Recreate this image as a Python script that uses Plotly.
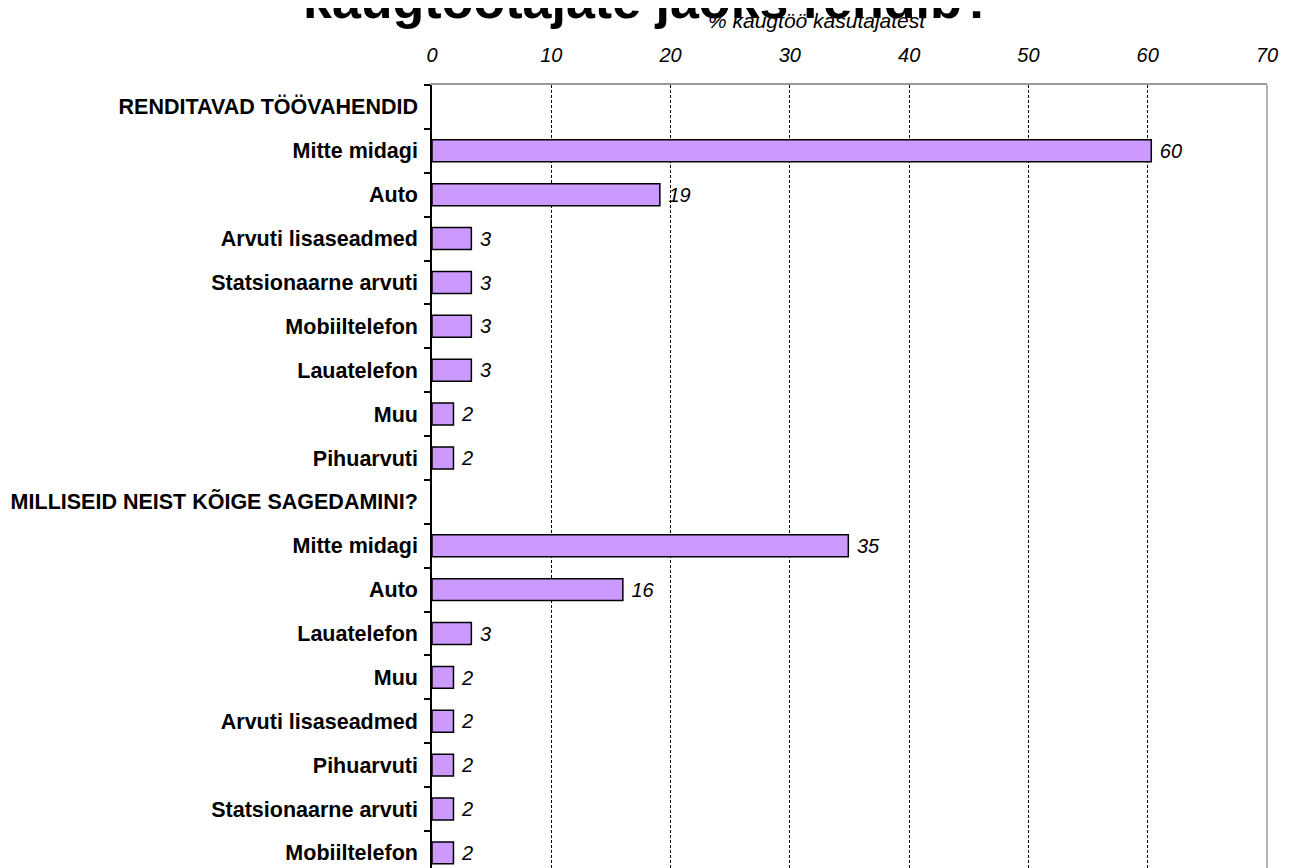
import plotly.graph_objects as go

# Andmed
kategooriad = [
    "RENDITAVAD TÖÖVAHENDID",
    "Mitte midagi", "Auto", "Arvuti lisaseadmed", "Statsionaarne arvuti",
    "Mobiiltelefon", "Lauatelefon", "Muu", "Pihuarvuti",
    "MILLISEID NEIST KÕIGE SAGEDAMINI?",
    "Mitte midagi", "Auto", "Lauatelefon", "Muu", "Arvuti lisaseadmed",
    "Pihuarvuti", "Statsionaarne arvuti", "Mobiiltelefon",
]
vaartused = [
    None,
    60.3, 19.1, 3.3, 3.3, 3.3, 3.3, 1.8, 1.8,
    None,
    34.9, 16.0, 3.3, 1.8, 1.8, 1.8, 1.8, 1.8,
]
sildid = [
    "",
    "60", "19", "3", "3", "3", "3", "2", "2",
    "",
    "35", "16", "3", "2", "2", "2", "2", "2",
]
x_tickid = [0, 10, 20, 30, 40, 50, 60, 70]

pealkiri = "kaugtöötajate jaoks rendib?"
telje_pealkiri = "% kaugtöö kasutajatest"

FONT = "Liberation Sans, Arial, sans-serif"
pos = list(range(len(kategooriad)))

fig = go.Figure()

fig.add_trace(go.Bar(
    x=vaartused, y=pos, orientation="h",
    marker=dict(color="#CC99FF", line=dict(color="black", width=1.5)),
    text=sildid, texttemplate="\u00a0%{text}",
    textposition="outside", cliponaxis=False,
    textfont=dict(family=FONT, size=21, color="black", style="italic"),
    hoverinfo="skip",
))

# leht lisab 8px veerise, seega mõõdud sellega arvestatud
fig.update_layout(
    width=1283, height=862,
    margin=dict(l=424, r=24, t=77, b=0),
    paper_bgcolor="white", plot_bgcolor="white",
    showlegend=False, bargap=0.5,
    font=dict(family=FONT, color="black"),
    annotations=[
        dict(text=pealkiri, xref="paper", yref="paper", x=0.259, y=1.108,
             xanchor="center", yanchor="middle", showarrow=False,
             font=dict(family=FONT, size=52, color="black", weight="bold")),
        dict(text=telje_pealkiri, xref="paper", yref="paper", x=0.461, y=1.082,
             xanchor="center", yanchor="middle", showarrow=False,
             font=dict(family=FONT, size=21, color="black", style="italic")),
    ],
    shapes=[
        dict(type="line", xref="paper", yref="paper", x0=1, x1=1, y0=0, y1=1,
             line=dict(color="#999999", width=1.5)),
    ],
)

fig.update_xaxes(
    side="top", range=[0, 70], tickvals=x_tickid,
    ticks="", ticklabelstandoff=13,
    tickfont=dict(family=FONT, size=20, color="black", style="italic"),
    showgrid=True, gridcolor="black", gridwidth=1, griddash="3px,2px",
    showline=True, linecolor="#999999", linewidth=1.5,
    zeroline=False,
)

fig.update_yaxes(
    range=[17.39, -0.5], tickvals=pos, ticktext=kategooriad,
    ticks="", ticklabelstandoff=8,
    tickfont=dict(family=FONT, size=21.5, color="black", weight="bold"),
    showgrid=False, zeroline=False,
    showline=True, linecolor="black", linewidth=1.5,
    minor=dict(tick0=0.5, dtick=1, ticks="outside", ticklen=6,
               tickcolor="black", tickwidth=1.5, showgrid=False),
)

fig.write_html("out.html")
